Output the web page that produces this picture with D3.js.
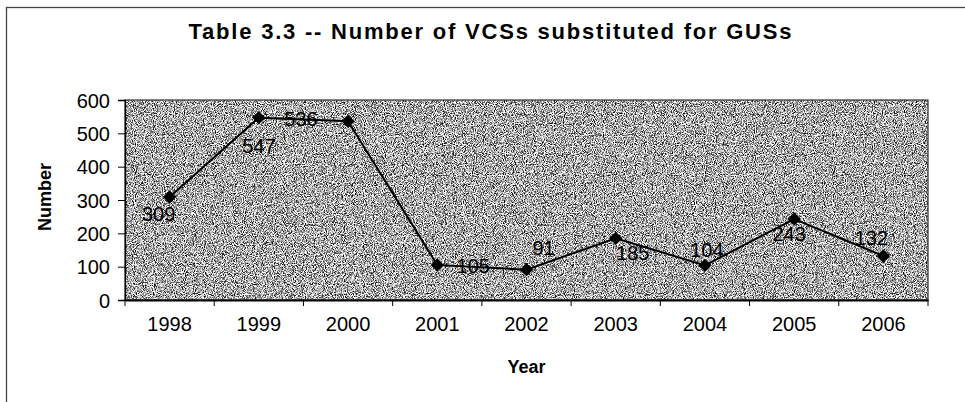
<!DOCTYPE html>
<html>
<head>
<meta charset="utf-8">
<script src="https://cdn.jsdelivr.net/npm/d3@7"></script>
<style>
  body { margin: 0; background: #fff; }
  text { font-family: "Liberation Sans", Arial, sans-serif; fill: #000; }
</style>
</head>
<body>
<svg id="chart"></svg>
<script>
/*
    Data
*/
var years = ["1998", "1999", "2000", "2001", "2002", "2003", "2004", "2005", "2006"]
var vcsCounts = [309, 547, 536, 105, 91, 185, 104, 243, 132]
var yTicks = [0, 100, 200, 300, 400, 500, 600]
var chartTitle = "Table 3.3 -- Number of VCSs substituted for GUSs"

// where each value label sits relative to its marker (hand placed, like the original)
var labelDx = [-11, 0, -47, 36, 17, 17, 2, -5, -12]
var labelDy = [17, 28, -3, 1, -22, 14, -16, 15, -18]

/*
    Variables
*/
var width = 965
var height = 402
var plot = { left: 125, right: 928, top: 100, bottom: 300 }

var svg = d3.select("#chart")
    .attr("width", width)
    .attr("height", height)

// grainy grey fill for the plot area (scanned look)
var defs = svg.append("defs")
var grain = defs.append("filter")
    .attr("id", "grain")
    .attr("x", 0).attr("y", 0)
    .attr("width", "100%").attr("height", "100%")
    .attr("color-interpolation-filters", "sRGB")
grain.append("feTurbulence")
    .attr("type", "fractalNoise")
    .attr("baseFrequency", 1.1)
    .attr("numOctaves", 1)
    .attr("seed", 3)
grain.append("feColorMatrix")
    .attr("type", "matrix")
    .attr("values", "3 0 0 0 -0.83  3 0 0 0 -0.83  3 0 0 0 -0.83  0 0 0 0 1")

//outer frame, right and bottom edges run off the page
svg.append("rect")
    .attr("x", 6.5)
    .attr("y", 7.5)
    .attr("width", 1000)
    .attr("height", 500)
    .attr("fill", "none")
    .attr("stroke", "#444")
    .attr("stroke-width", 1.3)

//Scales
var xScale = d3.scaleBand()
    .domain(years)
    .range([plot.left, plot.right])

var yScale = d3.scaleLinear()
    .domain([0, 600])
    .range([plot.bottom, plot.top])

//plot area
svg.append("rect")
    .attr("x", plot.left)
    .attr("y", plot.top)
    .attr("width", plot.right - plot.left)
    .attr("height", plot.bottom - plot.top)
    .attr("filter", "url(#grain)")
svg.append("rect")
    .attr("x", plot.left)
    .attr("y", plot.top)
    .attr("width", plot.right - plot.left)
    .attr("height", plot.bottom - plot.top)
    .attr("fill", "none")
    .attr("stroke", "#333")
    .attr("stroke-width", 1.2)

//Y-Axis
var yAxis = d3.axisLeft(yScale)
    .tickValues(yTicks)
    .tickSize(7)
    .tickPadding(8)

svg.append("g")
    .attr("transform", "translate(" + plot.left + ",0)")
    .call(yAxis)
    .call(function(g) {
        g.select(".domain").attr("stroke", "#000").attr("stroke-width", 1.4)
        g.selectAll(".tick line").attr("stroke", "#000")
        g.selectAll(".tick text").style("font-size", "20px").attr("dy", "0.36em")
    })

//X-Axis, ticks between the categories
var xAxis = d3.axisBottom(xScale)
    .tickSize(0)
    .tickPadding(17)

svg.append("g")
    .attr("transform", "translate(0," + plot.bottom + ")")
    .call(xAxis)
    .call(function(g) {
        g.select(".domain").attr("stroke", "#000").attr("stroke-width", 1.8)
        g.selectAll(".tick text").style("font-size", "20px")
    })

svg.append("g")
    .selectAll("line")
    .data(years.concat(["end"]))
    .enter().append("line")
    .attr("x1", function(d, i) { return i < years.length ? xScale(d) : xScale(years[years.length - 1]) + xScale.bandwidth() })
    .attr("x2", function(d, i) { return i < years.length ? xScale(d) : xScale(years[years.length - 1]) + xScale.bandwidth() })
    .attr("y1", plot.bottom)
    .attr("y2", plot.bottom + 6)
    .attr("stroke", "#000")
    .attr("stroke-width", 1)

//series
var points = years.map(function(y, i) {
    return { year: y, value: vcsCounts[i], dx: labelDx[i], dy: labelDy[i] }
})

var line = d3.line()
    .x(function(d) { return xScale(d.year) + xScale.bandwidth() / 2 })
    .y(function(d) { return yScale(d.value) })

svg.append("path")
    .datum(points)
    .attr("d", line)
    .attr("fill", "none")
    .attr("stroke", "#000")
    .attr("stroke-width", 2)

svg.append("g")
    .selectAll("path")
    .data(points)
    .enter().append("path")
    .attr("d", d3.symbol(d3.symbolSquare, 88))
    .attr("transform", function(d) {
        return "translate(" + (xScale(d.year) + xScale.bandwidth() / 2) + "," + yScale(d.value) + ") rotate(45)"
    })
    .attr("fill", "#000")

svg.append("g")
    .selectAll("text")
    .data(points)
    .enter().append("text")
    .attr("x", function(d) { return xScale(d.year) + xScale.bandwidth() / 2 + d.dx })
    .attr("y", function(d) { return yScale(d.value) + d.dy })
    .attr("dy", "0.36em")
    .attr("text-anchor", "middle")
    .style("font-size", "20px")
    .text(function(d) { return d.value })

//titles
svg.append("text")
    .attr("x", 490)
    .attr("y", 39)
    .attr("text-anchor", "middle")
    .attr("textLength", 603)
    .attr("lengthAdjust", "spacing")
    .style("font-size", "22px")
    .style("font-weight", "bold")
    .text(chartTitle)

svg.append("text")
    .attr("transform", "translate(51,197) rotate(-90)")
    .attr("text-anchor", "middle")
    .style("font-size", "18px")
    .style("font-weight", "bold")
    .text("Number")

svg.append("text")
    .attr("x", (plot.left + plot.right) / 2)
    .attr("y", 373)
    .attr("text-anchor", "middle")
    .style("font-size", "18px")
    .style("font-weight", "bold")
    .text("Year")
</script>
</body>
</html>
